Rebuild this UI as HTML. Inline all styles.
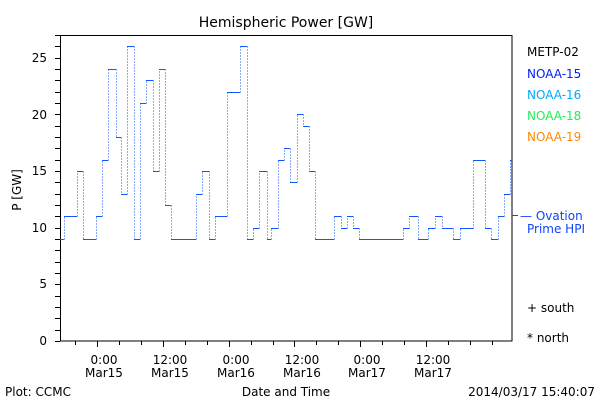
<!DOCTYPE html>
<html><head><meta charset="utf-8"><style>
html,body{margin:0;padding:0;background:#fff;}
svg{display:block;}
text{font-family:"DejaVu Sans","Liberation Sans",sans-serif;}
</style></head><body>
<svg width="600" height="400" viewBox="0 0 600 400" xmlns="http://www.w3.org/2000/svg" shape-rendering="crispEdges">
<rect width="600" height="400" fill="#fff"/>
<text x="286" y="27" font-size="14" text-anchor="middle" fill="#000">Hemispheric Power [GW]</text>
<rect x="60.5" y="35.5" width="451.5" height="305.5" fill="none" stroke="#000" stroke-width="1"/>
<path stroke="#000" fill="none" d="M55 341.5H60M55 330.5H60M55 318.5H60M55 307.5H60M55 296.5H60M55 284.5H60M55 273.5H60M55 262.5H60M55 250.5H60M55 239.5H60M55 228.5H60M55 216.5H60M55 205.5H60M55 194.5H60M55 182.5H60M55 171.5H60M55 160.5H60M55 148.5H60M55 137.5H60M55 126.5H60M55 114.5H60M55 103.5H60M55 92.5H60M55 80.5H60M55 69.5H60M55 58.5H60M55 46.5H60M55 35.5H60"/>
<path stroke="#000" fill="none" d="M75.5 341V345M97.5 341V347M119.5 341V345M141.5 341V345M163.5 341V347M185.5 341V345M207.5 341V345M229.5 341V347M251.5 341V345M273.5 341V345M294.5 341V347M316.5 341V345M338.5 341V345M360.5 341V347M382.5 341V345M404.5 341V345M426.5 341V347M448.5 341V345M470.5 341V345M492.5 341V345"/>
<g font-size="12" fill="#000" text-anchor="end">
<text x="47" y="345">0</text><text x="47" y="288">5</text><text x="47" y="232">10</text>
<text x="47" y="175">15</text><text x="47" y="119">20</text><text x="47" y="62">25</text>
</g>
<text transform="translate(21,190) rotate(-90)" font-size="12" text-anchor="middle">P [GW]</text>
<g font-size="12" fill="#000" text-anchor="middle">
<text x="104" y="364">0:00</text><text x="104" y="377">Mar15</text>
<text x="170" y="364">12:00</text><text x="170" y="377">Mar15</text>
<text x="236" y="364">0:00</text><text x="236" y="377">Mar16</text>
<text x="302" y="364">12:00</text><text x="302" y="377">Mar16</text>
<text x="367" y="364">0:00</text><text x="367" y="377">Mar17</text>
<text x="433" y="364">12:00</text><text x="433" y="377">Mar17</text>
<text x="286" y="396">Date and Time</text>
</g>
<text x="5" y="396" font-size="12">Plot: CCMC</text>
<text x="595" y="396" font-size="12" text-anchor="end">2014/03/17 15:40:07</text>
<g font-size="12">
<text x="527" y="56" fill="#000">METP-02</text>
<text x="527" y="78" fill="#0022ee">NOAA-15</text>
<text x="527" y="99" fill="#00aaff">NOAA-16</text>
<text x="527" y="120" fill="#22ee55">NOAA-18</text>
<text x="527" y="141" fill="#ff8800">NOAA-19</text>
<text x="520" y="220" fill="#1144ff">— Ovation</text>
<text x="527" y="233" fill="#1144ff">Prime HPI</text>
<text x="527" y="312" fill="#000">+ south</text>
<text x="527" y="342" fill="#000">* north</text>
</g>
<line x1="512" y1="215.5" x2="518" y2="215.5" stroke="#1144ff"/>
<path fill="none" stroke="#1155ff" d="M60 239.5H64M64 216.5H77M77 171.5H83M83 239.5H96M96 216.5H102M102 160.5H108M108 69.5H116M116 137.5H121M121 194.5H127M127 46.5H134M134 239.5H140M140 103.5H146M146 80.5H153M153 171.5H159M159 69.5H165M165 205.5H171M171 239.5H196M196 194.5H202M202 171.5H209M209 239.5H215M215 216.5H227M227 92.5H240M240 46.5H247M247 239.5H253M253 228.5H259M259 171.5H267M267 239.5H271M271 228.5H278M278 160.5H284M284 148.5H290M290 182.5H297M297 114.5H303M303 126.5H309M309 171.5H315M315 239.5H334M334 216.5H341M341 228.5H347M347 216.5H353M353 228.5H359M359 239.5H403M403 228.5H409M409 216.5H418M418 239.5H428M428 228.5H435M435 216.5H442M442 228.5H453M453 239.5H460M460 228.5H473M473 160.5H485M485 228.5H491M491 239.5H498M498 216.5H504M504 194.5H510M510 160.5H512"/>
<path fill="none" stroke="#1155ff" stroke-dasharray="1,2" d="M64.5 239.5V216.5M77.5 216.5V171.5M83.5 171.5V239.5M96.5 239.5V216.5M102.5 216.5V160.5M108.5 160.5V69.5M116.5 69.5V137.5M121.5 137.5V194.5M127.5 194.5V46.5M134.5 46.5V239.5M140.5 239.5V103.5M146.5 103.5V80.5M153.5 80.5V171.5M159.5 171.5V69.5M165.5 69.5V205.5M171.5 205.5V239.5M196.5 239.5V194.5M202.5 194.5V171.5M209.5 171.5V239.5M215.5 239.5V216.5M227.5 216.5V92.5M240.5 92.5V46.5M247.5 46.5V239.5M253.5 239.5V228.5M259.5 228.5V171.5M267.5 171.5V239.5M271.5 239.5V228.5M278.5 228.5V160.5M284.5 160.5V148.5M290.5 148.5V182.5M297.5 182.5V114.5M303.5 114.5V126.5M309.5 126.5V171.5M315.5 171.5V239.5M334.5 239.5V216.5M341.5 216.5V228.5M347.5 228.5V216.5M353.5 216.5V228.5M359.5 228.5V239.5M403.5 239.5V228.5M409.5 228.5V216.5M418.5 216.5V239.5M428.5 239.5V228.5M435.5 228.5V216.5M442.5 216.5V228.5M453.5 228.5V239.5M460.5 239.5V228.5M473.5 228.5V160.5M485.5 160.5V228.5M491.5 228.5V239.5M498.5 239.5V216.5M504.5 216.5V194.5M510.5 194.5V160.5"/>
</svg>
</body></html>
